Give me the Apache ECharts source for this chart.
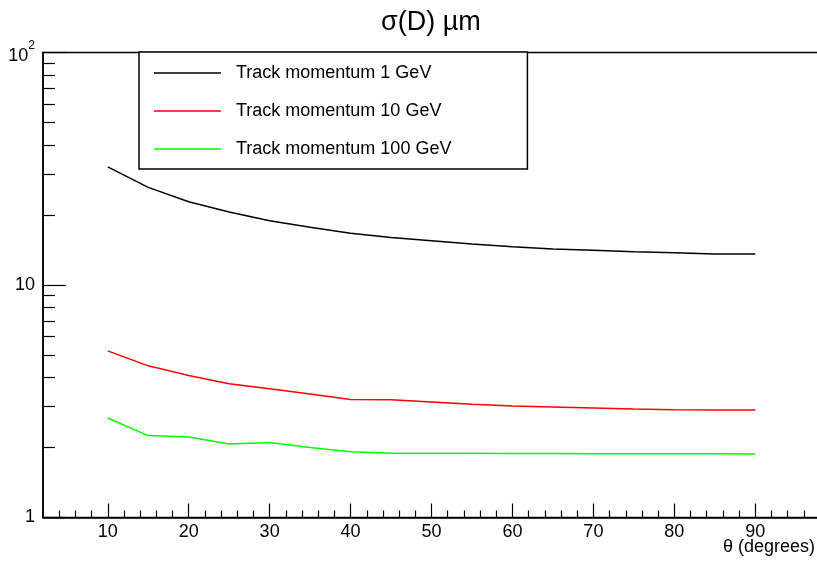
<!DOCTYPE html>
<html><head><meta charset="utf-8">
<script src="https://cdn.jsdelivr.net/npm/echarts@6/dist/echarts.min.js"></script>
<style>html,body{margin:0;padding:0;background:#fff}#c{width:817px;height:562px}</style>
</head><body><div id="c"></div>
<script>
const theta = [10,15,20,25,30,35,40,45,50,55,60,65,70,75,80,85,90];
const mom1 = [32.2,26.3,22.8,20.6,18.9,17.7,16.7,16.0,15.5,15.0,14.6,14.3,14.1,13.9,13.76,13.6,13.6];
const mom10 = [5.21,4.49,4.08,3.76,3.58,3.40,3.22,3.21,3.14,3.07,3.02,2.99,2.96,2.93,2.91,2.90,2.90];
const mom100 = [2.68,2.25,2.22,2.07,2.10,2.00,1.92,1.89,1.89,1.89,1.885,1.885,1.88,1.88,1.88,1.88,1.875];
const seriesNames = ['Track momentum 1 GeV','Track momentum 10 GeV','Track momentum 100 GeV'];
const seriesColors = ['#000000','#ff0000','#00ff00'];
const xMajorTicks = [10,20,30,40,50,60,70,80,90];
const xMinorTicks = [4,6,8,12,14,16,18,22,24,26,28,32,34,36,38,42,44,46,48,52,54,56,58,62,64,66,68,72,74,76,78,82,84,86,88,92,94,96];
const yMajorTicks = [1,10,100];
const yMinorTicks = [2,3,4,5,6,7,8,9,20,30,40,50,60,70,80,90];
const titleText = 'σ(D) µm';
const xTitle = 'θ (degrees)';

const FONT = 'Liberation Sans, Arial, Helvetica, sans-serif';
const chart = echarts.init(document.getElementById('c'));
const data = [mom1, mom10, mom100];
chart.setOption({
  animation: false,
  backgroundColor: '#fff',
  title: {
    text: titleText, left: 376, top: 4,
    textStyle: {fontFamily: FONT, fontSize: 27, fontWeight: 'normal', color: '#000'}
  },
  graphic: [{
    type: 'text', right: 2, top: 538,
    style: {text: xTitle, font: '18px ' + FONT, fill: '#000'}
  }],
  legend: {
    orient: 'vertical', left: 139, top: 52,
    data: seriesNames,
    icon: 'rect', itemWidth: 67, itemHeight: 1.5, itemGap: 18,
    padding: [11, 76, 10, 15],
    borderColor: '#000', borderWidth: 1.5, backgroundColor: '#fff',
    textStyle: {fontFamily: FONT, fontSize: 18, color: '#000', lineHeight: 20, padding: [0,0,0,10]}
  },
  grid: {left: 43, top: 52.5, width: 777, height: 465, show: true, borderColor: '#000', borderWidth: 1.5, backgroundColor: 'transparent', containLabel: false, outerBoundsMode: 'none'},
  xAxis: [{
    type: 'value', min: 2, max: 98,
    axisLine: {show: true, lineStyle: {color: '#000', width: 1.5}},
    axisTick: {show: true, inside: true, length: 14, customValues: xMajorTicks, lineStyle: {color: '#000', width: 1.2}},
    axisLabel: {show: true, customValues: xMajorTicks, margin: 6, fontFamily: FONT, fontSize: 18, color: '#000'},
    splitLine: {show: false}
  }, {
    type: 'value', min: 2, max: 98, position: 'bottom',
    axisLine: {show: false},
    axisTick: {show: true, inside: true, length: 7, customValues: xMinorTicks, lineStyle: {color: '#000', width: 1.2}},
    axisLabel: {show: false},
    splitLine: {show: false}
  }],
  yAxis: [{
    type: 'log', logBase: 10, min: 1, max: 100,
    axisLine: {show: true, lineStyle: {color: '#000', width: 1.5}},
    axisTick: {show: true, inside: true, length: 23, customValues: yMajorTicks, lineStyle: {color: '#000', width: 1.2}},
    axisLabel: {
      show: true, customValues: yMajorTicks, margin: 8, fontFamily: FONT, fontSize: 18, color: '#000',
      formatter: v => v >= 100 ? '{b|10}{s|2}' : String(Math.round(v)),
      rich: {b: {fontFamily: FONT, fontSize: 18, color: '#000', padding: [8,0,0,0]}, s: {fontFamily: FONT, fontSize: 12, color: '#000', verticalAlign: 'top'}}
    },
    splitLine: {show: false}
  }, {
    type: 'log', logBase: 10, min: 1, max: 100, position: 'left',
    axisLine: {show: false},
    axisTick: {show: true, inside: true, length: 12, customValues: yMinorTicks, lineStyle: {color: '#000', width: 1.2}},
    axisLabel: {show: false},
    splitLine: {show: false}
  }],
  series: seriesNames.map((n, i) => ({
    name: n, type: 'line', xAxisIndex: 0, yAxisIndex: 0,
    showSymbol: false, symbol: 'none',
    color: seriesColors[i],
    lineStyle: {color: seriesColors[i], width: 1.5},
    data: theta.map((t, k) => [t, data[i][k]])
  }))
});
</script></body></html>
